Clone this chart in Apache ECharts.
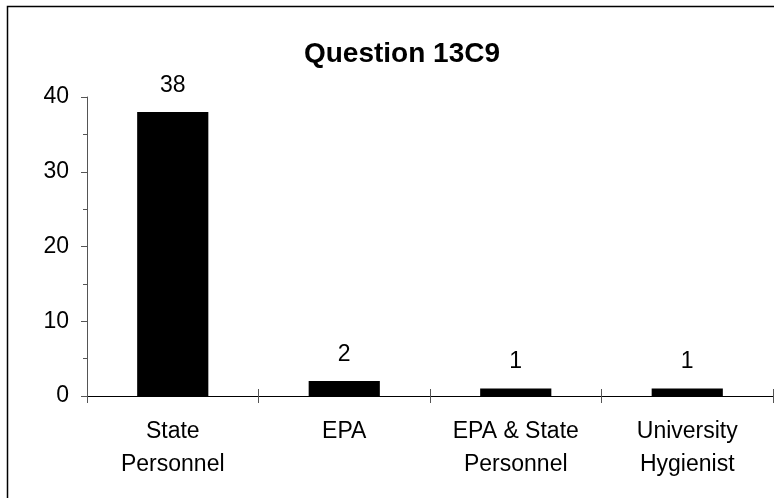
<!DOCTYPE html>
<html>
<head>
<meta charset="utf-8">
<script src="https://cdn.jsdelivr.net/npm/echarts@6/dist/echarts.min.js"></script>
<style>
  html, body { margin: 0; padding: 0; background: #fff; }
  #chart { width: 774px; height: 498px; }
</style>
</head>
<body>
<div id="chart"></div>
<script>
const categories = ["State\nPersonnel", "EPA", "EPA & State\nPersonnel", "University\nHygienist"];
const counts = [38, 2, 1, 1];
const yTicks = [0, 10, 20, 30, 40];

const font = "Liberation Sans, Arial, sans-serif";
const chart = echarts.init(document.getElementById("chart"));

const option = {
  backgroundColor: "#fff",
  animation: false,
  title: {
    text: "Question 13C9",
    left: 397,
    top: 35,
    textAlign: "center",
    textStyle: { fontFamily: font, fontSize: 28, fontWeight: "bold", color: "#000" },
  },
  graphic: [
    {
      type: "rect",
      shape: { x: 7.5, y: 6.5, width: 800, height: 520 },
      style: { fill: "none", stroke: "#000", lineWidth: 1.5 },
      silent: true,
    },
  ],
  grid: { left: 87, right: 1, top: 97, bottom: 102 },
  xAxis: [
    {
      type: "category",
      data: categories,
      axisLine: { lineStyle: { color: "#000", width: 1 } },
      axisTick: { show: true, length: 7, lineStyle: { color: "#555" } },
      axisLabel: {
        fontFamily: font, fontSize: 23, color: "#000",
        margin: 19, lineHeight: 33,
      },
    },
    {
      type: "category",
      data: categories,
      position: "bottom",
      axisLine: { show: false },
      axisTick: { show: true, inside: true, length: 7, lineStyle: { color: "#555" } },
      axisLabel: { show: false },
    },
  ],
  yAxis: {
    type: "value",
    min: yTicks[0],
    max: yTicks[yTicks.length - 1],
    interval: 10,
    axisLine: { show: true, lineStyle: { color: "#555" } },
    axisTick: { show: true, length: 6, lineStyle: { color: "#555" } },
    minorTick: { show: true, splitNumber: 2, length: 4, lineStyle: { color: "#555" } },
    splitLine: { show: false },
    axisLabel: { fontFamily: font, fontSize: 23, color: "#000", margin: 18 },
  },
  series: [
    {
      type: "bar",
      data: counts,
      barWidth: "41.5%",
      itemStyle: { color: "#000" },
      label: {
        show: true,
        position: "top",
        distance: 15,
        fontFamily: font,
        fontSize: 23,
        color: "#000",
      },
    },
  ],
};

chart.setOption(option);
window.addEventListener("resize", function () {
  chart.resize();
});
</script>
</body>
</html>
